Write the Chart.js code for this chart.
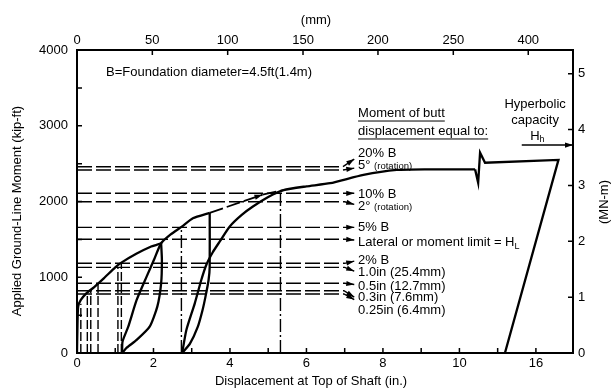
<!DOCTYPE html>
<html>
<head>
<meta charset="utf-8">
<script src="https://cdn.jsdelivr.net/npm/chart.js@4.4.1/dist/chart.umd.min.js"></script>
<style>
    html, body { margin: 0; padding: 0; background: #fff; }
</style>
</head>
<body>
<canvas id="chart" width="615" height="390"></canvas>
<script>
const FONT = '"Liberation Sans", Arial, sans-serif'

// Load test curve: displacement at top of shaft (in.) vs ground-line moment (kip-ft)
const firstLoadX = [0, 0.01, 0.03, 0.1, 0.25, 0.45, 0.7, 1.0, 1.15, 1.55, 1.94, 2.08, 2.2]
const firstLoadM = [0, 300, 612, 700, 790, 870, 985, 1131, 1190, 1310, 1405, 1428, 1449]
const unload1X = [2.2, 2.22, 2.2, 2.1, 1.9, 1.56, 1.3, 1.18]
const unload1M = [1449, 1229, 920, 612, 347, 172, 70, 0]
const reload1X = [1.18, 1.19, 1.34, 1.56, 1.82, 2.03, 2.2, 2.45, 2.74, 3.03, 3.47]
const reload1M = [0, 150, 347, 700, 1008, 1251, 1449, 1565, 1668, 1779, 1850]
const unload2X = [3.47, 3.47, 3.44, 3.36, 3.28, 3.16, 2.95, 2.75]
const unload2M = [1850, 1140, 960, 744, 560, 347, 120, 0]
const reload2X = [2.75, 2.86, 3.08, 3.25, 3.38, 3.55, 3.73, 3.99, 4.3, 4.6, 5.0, 5.4, 6.0, 6.62, 7.49, 8.36, 9.15, 10.41]
const reload2M = [0, 304, 656, 964, 1162, 1330, 1470, 1668, 1820, 1933, 2060, 2150, 2200, 2241, 2351, 2417, 2425, 2424]
const extrapX = [3.47, 4.85]
const extrapM = [1850, 2090]
const extrap2X = [4.85, 5.4]
const extrap2M = [2090, 2150]
const breakX = [10.41, 10.49, 10.54, 10.67, 12.59, 11.19]
const breakM = [2424, 2248, 2644, 2512, 2549, 0]
const capacityX = [11.63, 12.97]
const capacityM = [2745, 2745]

// Reference moments for butt displacement criteria (kip-ft)
const refNames = ['20% B', '5°', '10% B', '2°', '5% B', 'H_L', '2% B', '1.0in', '0.5in', '0.3in', '0.25in']
const refLevelM = [2459, 2416, 2108, 1997, 1659, 1501, 1184, 1131, 920, 822, 779]
const refTipM = [2560, 2440, 2108, 1962, 1659, 1492, 1212, 1080, 905, 738, 705]
const refBendX = [6.95, 6.95, 7.0, 7.0, 7.0, 7.0, 7.0, 7.0, 7.0, 6.98, 6.98]
const refTipX = [7.25, 7.25, 7.25, 7.25, 7.25, 7.25, 7.25, 7.25, 7.25, 7.25, 7.25]

// Displacements where the criteria are reached (in.) and their moments
const dropX = [0.1, 0.27, 0.36, 0.55, 1.07, 1.16, 2.73, 5.32]
const dropTopM = [650, 779, 822, 920, 1131, 1184, 1659, 2108]

// Axes
const xTickValues = [0, 1, 2, 3, 4, 5, 6, 7, 8, 9, 10, 11, 12]
const xTickLabels = ['0', '', '2', '', '4', '', '6', '', '8', '', '10', '', '16']
const yTickValues = [0, 500, 1000, 1500, 2000, 2500, 3000, 3500, 4000]
const yTickLabels = ['0', '', '1000', '', '2000', '', '3000', '', '4000']
const topTickValues = [0, 1.97, 3.94, 5.91, 7.87, 9.84, 11.8]
const topTickLabels = ['0', '50', '100', '150', '200', '250', '400']
const rightTickValues = [0, 1, 2, 3, 4, 5]
const rightTickLabels = ['0', '1', '2', '3', '4', '5']
const kipFtPerMNm = 737.56

const pts = (xs, ys) => xs.map((x, i) => ({ x, y: ys[i] }))

const datasets = []
function addLine(xs, ys, opts) {
    datasets.push(Object.assign({
        data: pts(xs, ys),
        borderColor: '#000',
        borderWidth: 2.3,
        pointRadius: 0,
        fill: false,
        tension: 0
    }, opts))
}

addLine(firstLoadX, firstLoadM, { tension: 0.2 })
addLine(unload1X, unload1M, { tension: 0.2 })
addLine(reload1X, reload1M, { tension: 0.2 })
addLine(unload2X, unload2M, { tension: 0.15 })
addLine(reload2X, reload2M, { tension: 0.2 })
addLine(extrapX, extrapM, { borderDash: [14, 4], arrow: true, borderWidth: 1.8 })
addLine(extrap2X, extrap2M, { borderDash: [14, 4], borderWidth: 1.8 })
addLine(breakX, breakM, {})
addLine(capacityX, capacityM, { borderWidth: 1.5, arrow: true })

for (let i = 0; i < refLevelM.length; i++) {
    addLine([0, refBendX[i], refTipX[i]], [refLevelM[i], refLevelM[i], refTipM[i]],
        { borderWidth: 1.4, borderDash: [15, 4], arrow: true })
}
for (let i = 0; i < dropX.length; i++) {
    const dash = i >= 6 ? [13, 3, 2, 3] : [9, 3]
    addLine([dropX[i], dropX[i]], [0, dropTopM[i]], { borderWidth: 1.4, borderDash: dash })
}

// Annotation texts, placed in data units (in., kip-ft)
const notes = [
    { t: 'B=Foundation diameter=4.5ft(1.4m)', x: 0.76, y: 3710 },
    { t: 'Moment of butt', x: 7.35, y: 3168, u: true },
    { t: 'displacement equal to:', x: 7.35, y: 2931, u: true },
    { t: 'Hyperbolic', x: 11.98, y: 3287, c: true },
    { t: 'capacity', x: 11.98, y: 3076, c: true },
    { t: 'H', sub: 'h', x: 11.85, y: 2865 },
    { t: '20% B', x: 7.35, y: 2640 },
    { t: '5° ', small: '(rotation)', x: 7.35, y: 2482 },
    { t: '10% B', x: 7.35, y: 2099 },
    { t: '2° ', small: '(rotation)', x: 7.35, y: 1941 },
    { t: '5% B', x: 7.35, y: 1663 },
    { t: 'Lateral or moment limit = H', sub: 'L', x: 7.35, y: 1465 },
    { t: '2% B', x: 7.35, y: 1228 },
    { t: '1.0in (25.4mm)', x: 7.35, y: 1069 },
    { t: '0.5in (12.7mm)', x: 7.35, y: 884 },
    { t: '0.3in (7.6mm)', x: 7.35, y: 739 },
    { t: '0.25in (6.4mm)', x: 7.35, y: 568 }
]

const decorPlugin = {
    id: 'decor',
    afterDatasetsDraw(chart) {
        const ctx = chart.ctx
        const area = chart.chartArea
        const sx = chart.scales.x, sy = chart.scales.y
        ctx.save()
        ctx.fillStyle = '#000'
        ctx.strokeStyle = '#000'

        // arrow heads at the end of marked lines
        chart.data.datasets.forEach((ds, i) => {
            if (!ds.arrow) return
            const el = chart.getDatasetMeta(i).data
            const a = el[el.length - 2], b = el[el.length - 1]
            const ang = Math.atan2(b.y - a.y, b.x - a.x)
            ctx.beginPath()
            ctx.moveTo(b.x, b.y)
            ctx.lineTo(b.x - 8 * Math.cos(ang) + 2.6 * Math.sin(ang), b.y - 8 * Math.sin(ang) - 2.6 * Math.cos(ang))
            ctx.lineTo(b.x - 8 * Math.cos(ang) - 2.6 * Math.sin(ang), b.y - 8 * Math.sin(ang) + 2.6 * Math.cos(ang))
            ctx.closePath()
            ctx.fill()
        })

        // inward tick marks
        ctx.lineWidth = 1.5
        ctx.beginPath()
        const tl = 5
        chart.scales.x.ticks.forEach(t => {
            const p = sx.getPixelForValue(t.value)
            if (t.value === 0) return
            ctx.moveTo(p, area.bottom); ctx.lineTo(p, area.bottom - tl)
        })
        chart.scales.x2.ticks.forEach(t => {
            const p = chart.scales.x2.getPixelForValue(t.value)
            if (t.value === 0) return
            ctx.moveTo(p, area.top); ctx.lineTo(p, area.top + tl)
        })
        chart.scales.y.ticks.forEach(t => {
            const p = sy.getPixelForValue(t.value)
            if (t.value === 0 || t.value === 4000) return
            ctx.moveTo(area.left, p); ctx.lineTo(area.left + tl, p)
        })
        chart.scales.y2.ticks.forEach(t => {
            const p = chart.scales.y2.getPixelForValue(t.value)
            if (t.value === 0) return
            ctx.moveTo(area.right, p); ctx.lineTo(area.right - tl, p)
        })
        ctx.stroke()

        // notes
        ctx.textBaseline = 'middle'
        notes.forEach(n => {
            const px = sx.getPixelForValue(n.x), py = sy.getPixelForValue(n.y)
            ctx.font = '13px ' + FONT
            ctx.textAlign = n.c ? 'center' : 'left'
            ctx.fillText(n.t, px, py)
            const w = ctx.measureText(n.t).width
            if (n.sub) {
                ctx.font = '9px ' + FONT
                ctx.textAlign = 'left'
                ctx.fillText(n.sub, px + w, py + 4)
            }
            if (n.small) {
                ctx.font = '9.5px ' + FONT
                ctx.textAlign = 'left'
                ctx.fillText(n.small, px + w, py + 1)
            }
            if (n.u) {
                ctx.lineWidth = 1
                ctx.beginPath()
                ctx.moveTo(px, py + 8); ctx.lineTo(px + w, py + 8)
                ctx.stroke()
            }
        })

        // axis titles
        ctx.font = '13px ' + FONT
        ctx.textAlign = 'center'
        ctx.fillText('Displacement at Top of Shaft (in.)', 311, 381)
        ctx.fillText('(mm)', 316, 20)
        ctx.save()
        ctx.translate(17, 211)
        ctx.rotate(-Math.PI / 2)
        ctx.fillText('Applied Ground-Line Moment (kip-ft)', 0, 0)
        ctx.restore()
        ctx.save()
        ctx.translate(604, 202)
        ctx.rotate(-Math.PI / 2)
        ctx.fillText('(MN-m)', 0, 0)
        ctx.restore()
        ctx.restore()
    }
}

const border = { display: true, color: '#000', width: 2 }
const tickFont = { family: FONT, size: 13 }
const grid = { display: false, drawTicks: false }

new Chart(document.getElementById('chart'), {
    type: 'line',
    data: { datasets },
    options: {
        responsive: false,
        devicePixelRatio: 1,
        animation: false,
        events: [],
        layout: { padding: 0 },
        plugins: { legend: { display: false }, tooltip: { enabled: false } },
        scales: {
            x: {
                type: 'linear', position: 'bottom', min: 0, max: 12.97,
                grid, border,
                afterBuildTicks: s => { s.ticks = xTickValues.map(value => ({ value })) },
                ticks: { autoSkip: false, maxRotation: 0, padding: 3, color: '#000', font: tickFont,
                    callback: (v, i) => xTickLabels[i] },
                afterFit: s => { s.height = 37 }
            },
            x2: {
                type: 'linear', position: 'top', min: 0, max: 12.97,
                grid, border,
                afterBuildTicks: s => { s.ticks = topTickValues.map(value => ({ value })) },
                ticks: { autoSkip: false, maxRotation: 0, padding: 2, color: '#000', font: tickFont,
                    callback: (v, i) => topTickLabels[i] },
                afterFit: s => { s.height = 50 }
            },
            y: {
                type: 'linear', position: 'left', min: 0, max: 4000,
                grid, border,
                afterBuildTicks: s => { s.ticks = yTickValues.map(value => ({ value })) },
                ticks: { autoSkip: false, padding: 9, color: '#000', font: tickFont,
                    callback: (v, i) => yTickLabels[i] },
                afterFit: s => { s.width = 77 }
            },
            y2: {
                type: 'linear', position: 'right', min: 0, max: 4000 / kipFtPerMNm,
                grid, border,
                afterBuildTicks: s => { s.ticks = rightTickValues.map(value => ({ value })) },
                ticks: { autoSkip: false, padding: 5, color: '#000', font: tickFont,
                    callback: (v, i) => rightTickLabels[i] },
                afterFit: s => { s.width = 42 }
            }
        }
    },
    plugins: [decorPlugin]
})
</script>
</body>
</html>
